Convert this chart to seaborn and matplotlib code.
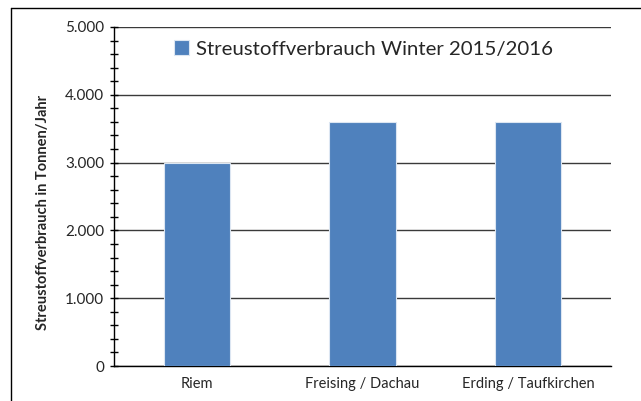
import numpy as np
import matplotlib
matplotlib.use("Agg")
import matplotlib.pyplot as plt
from matplotlib.ticker import FuncFormatter, MultipleLocator
from matplotlib.lines import Line2D
import seaborn as sns

standorte = ['Riem', 'Freising / Dachau', 'Erding / Taufkirchen']
verbrauch = [3000, 3600, 3600]
serie = 'Streustoffverbrauch Winter 2015/2016'

sns.set_style('white')
plt.rcParams['font.family'] = ['Lato', 'DejaVu Sans']

fig = plt.figure(figsize=(6.41, 4.01), dpi=100)
ax = fig.add_axes([114/641, 1-366/401, (611-114)/641, (366-27)/401])

sns.barplot(x=standorte, y=verbrauch, color='#4F81BD', width=0.4,
            saturation=1, label=serie, ax=ax, zorder=3,
            edgecolor='#DCE6F2', linewidth=0.8)

ax.set_ylim(0, 5000)
ax.set_xlim(-0.5, 2.5)
ax.yaxis.set_major_locator(MultipleLocator(1000))
ax.yaxis.set_minor_locator(MultipleLocator(200))
ax.yaxis.set_major_formatter(FuncFormatter(lambda v, p: f'{int(v):,}'.replace(',', '.')))
ax.grid(axis='y', which='major', color='#3a3a3a', linewidth=1, zorder=1)
ax.set_axisbelow(True)

# x: Striche an den Kategoriegrenzen, Beschriftung mittig
ax.set_xticks([-0.5, 0.5, 1.5, 2.5])
ax.set_xticklabels([])
ax.set_xticks([0, 1, 2], minor=True)
ax.set_xticklabels(standorte, minor=True, fontsize=10.5)
ax.tick_params(axis='x', which='major', direction='out', length=5, width=1, color='black')
ax.tick_params(axis='x', which='minor', length=0, pad=8)
ax.tick_params(axis='y', which='both', direction='inout', length=6, width=1, color='black',
               labelsize=11, left=True, pad=4)

for s in ['top', 'right']:
    ax.spines[s].set_visible(False)
for s in ['left', 'bottom']:
    ax.spines[s].set_color('black')
    ax.spines[s].set_linewidth(1)

ax.set_ylabel('Streustoffverbrauch in Tonnen/Jahr', fontsize=10.5, fontweight='bold')
ax.yaxis.set_label_coords(-0.128, 0.454)
ax.set_xlabel('')

ax.legend(loc='center left', bbox_to_anchor=(0.105, 0.935), frameon=False, fontsize=14.7,
          handlelength=0.7, handleheight=0.7, handletextpad=0.35, borderaxespad=0)

# Rahmen des Diagrammbereichs (links und oben sichtbar)
fig.add_artist(Line2D([11/641, 11/641], [0, 1-8/401], transform=fig.transFigure, color='black', linewidth=1))
fig.add_artist(Line2D([11/641, 1], [1-8/401, 1-8/401], transform=fig.transFigure, color='black', linewidth=1))

fig.savefig('out.png', dpi=100)
